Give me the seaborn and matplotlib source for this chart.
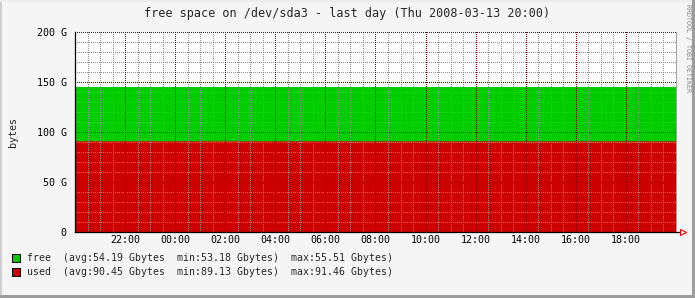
import matplotlib
matplotlib.use("Agg")
import matplotlib.pyplot as plt
from matplotlib.patches import Rectangle
from matplotlib.ticker import FixedLocator
from matplotlib.colors import to_rgba
import seaborn as sns
import pandas as pd
import numpy as np

# ---- data (hours since 20:00 on the previous day) ----
hours = list(range(0, 25))
used_g = [90.6, 90.6, 90.6, 90.6, 90.6, 90.7, 90.8, 90.6, 90.5, 90.5, 90.5, 90.4,
          90.4, 90.4, 90.4, 90.4, 90.4, 90.4, 90.4, 90.4, 90.4, 90.4, 90.4, 90.4, 90.4]
free_g = [54.9, 54.9, 54.9, 54.9, 54.9, 54.8, 54.7, 54.9, 55.0, 55.0, 55.0, 55.1,
          55.1, 55.1, 55.1, 55.1, 55.1, 55.1, 55.1, 55.1, 55.1, 55.1, 55.1, 55.1, 55.1]
tick_hours = [2, 4, 6, 8, 10, 12, 14, 16, 18, 20, 22]
tick_labels = ["22:00", "00:00", "02:00", "04:00", "06:00", "08:00",
               "10:00", "12:00", "14:00", "16:00", "18:00"]
ytick_vals = [0, 50, 100, 150, 200]
ytick_labels = ["0", "50 G", "100 G", "150 G", "200 G"]
series_names = ["free", "used"]
series_colors = ["#00CC00", "#CC0000"]
series_stats = ["(avg:54.19 Gbytes  min:53.18 Gbytes)  max:55.51 Gbytes)",
                "(avg:90.45 Gbytes  min:89.13 Gbytes)  max:91.46 Gbytes)"]
title = "free space on /dev/sda3 - last day (Thu 2008-03-13 20:00)"

sns.set_theme(style="white")
plt.rcParams['font.family'] = ['DejaVu Sans Mono', 'DejaVu Sans']

W, H = 695, 298
AX_X0, AX_Y0, AX_W, AX_H = 75, 66, 601, 200
fig = plt.figure(figsize=(W / 100, H / 100), dpi=100, facecolor="#F5F5F5")
ax = fig.add_axes([AX_X0 / W, AX_Y0 / H, AX_W / W, AX_H / H])
ax.set_facecolor("white")

df = pd.DataFrame({"hour": hours, "used": used_g, "free": free_g})
df["total"] = df["used"] + df["free"]

ax.fill_between(df["hour"], 0, df["used"], color=series_colors[1], lw=0, zorder=1)
ax.fill_between(df["hour"], df["used"], df["total"], color=series_colors[0], lw=0, zorder=1)
sns.lineplot(data=df, x="hour", y="used", ax=ax, color=series_colors[1], lw=0.5, zorder=1.2)
sns.lineplot(data=df, x="hour", y="total", ax=ax, color=series_colors[0], lw=0.5, zorder=1.2)

# dotted grid as a pixel-exact overlay image (RRDtool style 1-on/1-off dots)
grid_img = np.zeros((AX_H, AX_W, 4))
minor_x = [x for x in np.arange(0.5, 24, 0.5) if x % 2 != 0]
major_x = list(np.arange(2, 24, 2))
minor_y = [y for y in range(10, 200, 10) if y % 50 != 0]
major_y = [50, 100, 150, 200]
rows = np.arange(AX_H)
cols = np.arange(AX_W)
for xs, ys, col in ((minor_x, minor_y, "#8C8C8C"), (major_x, major_y, "#800000")):
    rgba = to_rgba(col)
    for x0 in xs:
        c = int(round(x0 * AX_W / 24))
        grid_img[rows[rows % 2 == 0], c] = rgba
    for y0 in ys:
        r = int(round((200 - y0) * AX_H / 200))
        grid_img[r, cols[cols % 2 == 0]] = rgba
ax.imshow(grid_img, extent=(0, 24, 0, 200), origin="upper", aspect="auto",
          interpolation="nearest", resample=False, zorder=3)

ax.set_xlim(0, 24)
ax.set_ylim(0, 200)
ax.xaxis.set_major_locator(FixedLocator(tick_hours))
ax.set_xticklabels(tick_labels)
ax.yaxis.set_major_locator(FixedLocator(ytick_vals))
ax.set_yticklabels(ytick_labels)
ax.grid(False)

ax.tick_params(axis="both", which="major", labelsize=7.2, colors="#7A0000",
               labelcolor="black", length=2, width=0.72, direction="out")
ax.tick_params(axis="x", which="major", pad=2.5, length=0)
ax.tick_params(axis="y", which="major", pad=4)

ax.spines["top"].set_visible(False)
ax.spines["right"].set_color("#A0A0A0")
ax.spines["right"].set_linewidth(0.72)
for s in ["left", "bottom"]:
    ax.spines[s].set_color("black")
    ax.spines[s].set_linewidth(0.9)
    ax.spines[s].set_zorder(4)

ax.set_xlabel("")
ax.set_ylabel("bytes", fontsize=7.2)
ax.yaxis.set_label_coords(-57 / 601, 0.5)

# axis extension and arrow
ax.plot([1.0, 1.005], [0, 0], transform=ax.transAxes, color="black", lw=0.9, clip_on=False)
ax.plot([1.011], [0], transform=ax.transAxes, marker=">", ms=5, mfc="none",
        mec="#DD0000", mew=0.8, clip_on=False)

fig.text(0.5, 1 - 14 / H, title, ha="center", va="center", fontsize=8.45)
fig.text(688 / W, 1 - 4 / H, "RRDTOOL / TOBI OETIKER", rotation=270, ha="center",
         va="top", fontsize=4.8, color="#888888")

# legend
for i, (name, col, stat) in enumerate(zip(series_names, series_colors, series_stats)):
    yc = 258 + 14 * i
    fig.add_artist(Rectangle((12 / W, 1 - (yc + 4) / H), 8 / W, 8 / H, transform=fig.transFigure,
                             facecolor=col, edgecolor="black", lw=0.72))
    fig.text(27 / W, 1 - yc / H, f"{name:<6}{stat}", ha="left", va="center", fontsize=7.15)

# 3D frame
fig.add_artist(Rectangle((0, 0), 2 / W, 1, transform=fig.transFigure, facecolor="#CFCFCF", lw=0))
fig.add_artist(Rectangle((0, 1 - 2 / H), 1, 2 / H, transform=fig.transFigure, facecolor="#EDEDED", lw=0))
fig.add_artist(Rectangle((1 - 3 / W, 0), 3 / W, 1, transform=fig.transFigure, facecolor="#9C9C9C", lw=0))
fig.add_artist(Rectangle((0, 0), 1, 3 / H, transform=fig.transFigure, facecolor="#9C9C9C", lw=0))

fig.savefig("out.png", dpi=100, facecolor=fig.get_facecolor())
